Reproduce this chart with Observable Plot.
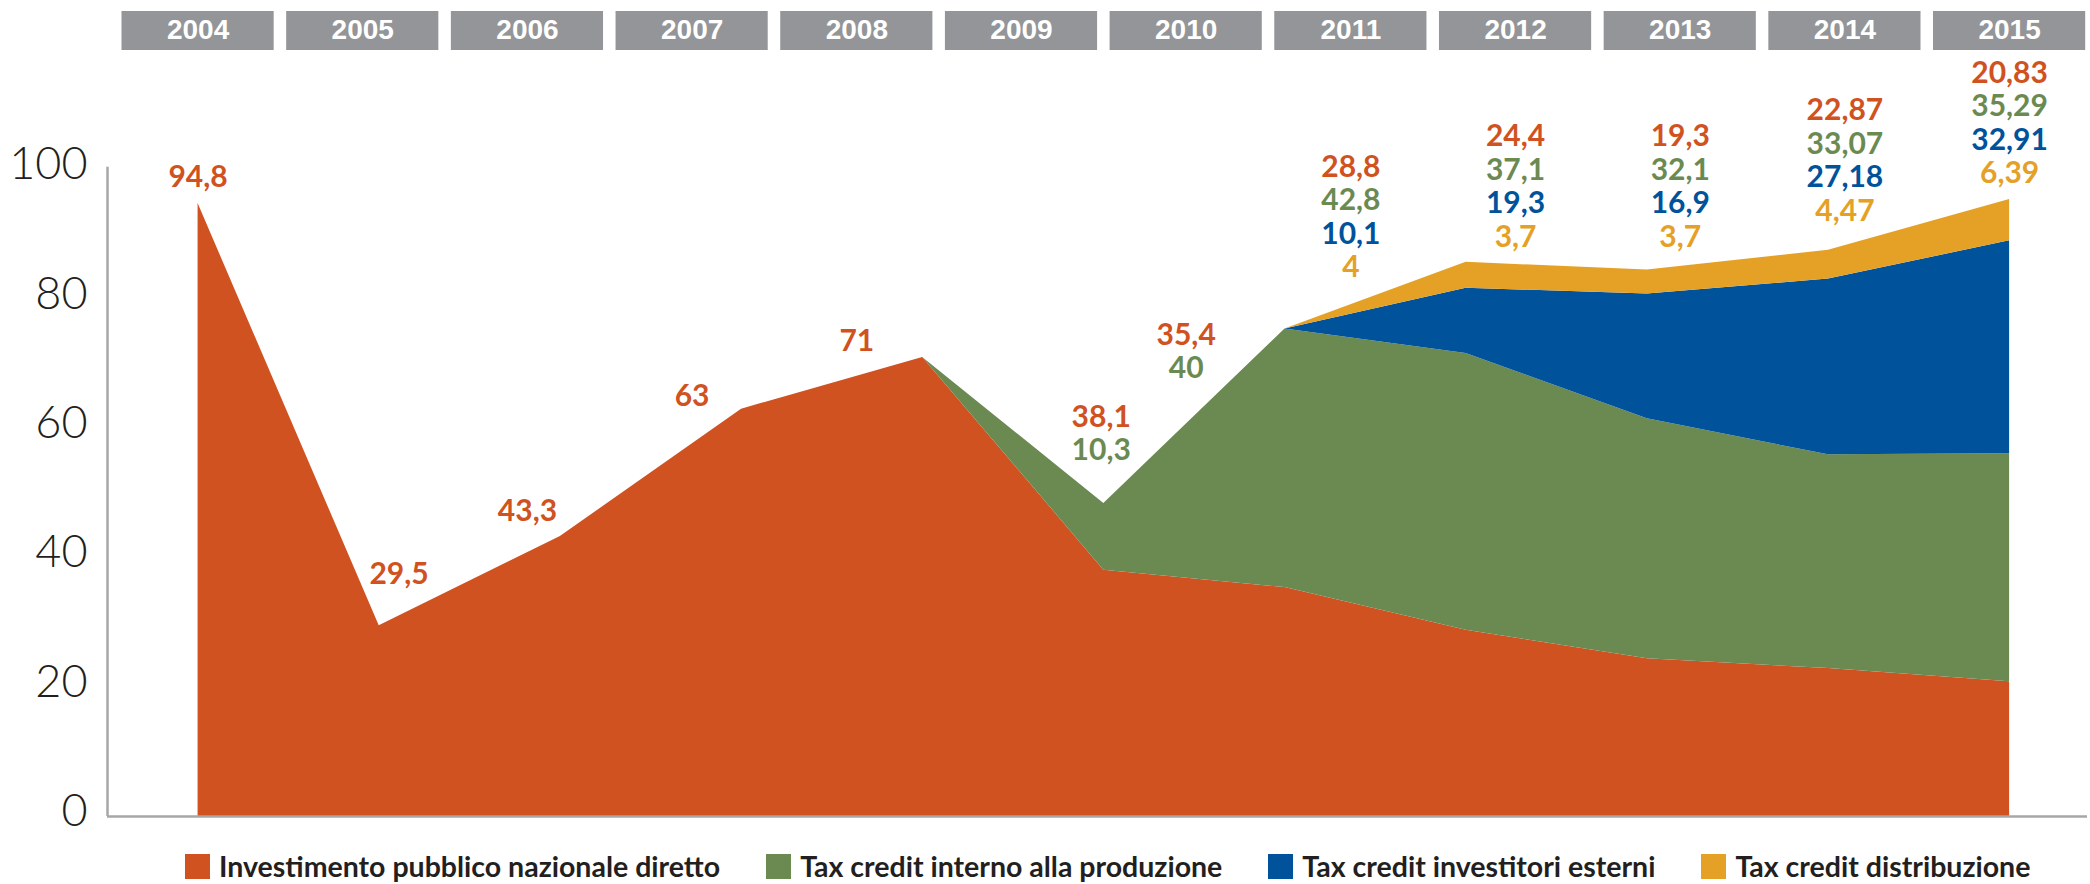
<!DOCTYPE html>
<html>
<head>
<meta charset="utf-8">
<script src="https://cdn.jsdelivr.net/npm/d3@7"></script>
<script src="https://cdn.jsdelivr.net/npm/@observablehq/plot@0.6"></script>
<style>
  html, body { margin: 0; padding: 0; background: #ffffff; }
  #legend { display: flex; align-items: center; height: 52px; padding-left: 185px; gap: 46px;
            font-family: Lato, "Open Sans", sans-serif; font-weight: 700; font-size: 28.5px; color: #231f20; }
  #legend .item { display: flex; align-items: center; white-space: nowrap; }
  #legend .sw { width: 25px; height: 25px; margin-right: 9px; display: inline-block; }
</style>
</head>
<body>
<div id="chart"></div>
<div id="legend"></div>
<script>
// ---- data ----
const years = [2004, 2005, 2006, 2007, 2008, 2009, 2010, 2011, 2012, 2013, 2014, 2015];
// years drawn as vertices of the area (the original chart has no 2013 vertex)
const areaYears = [2004, 2005, 2006, 2007, 2008, 2009, 2010, 2011, 2012, 2014, 2015];
const seriesNames = [
  "Investimento pubblico nazionale diretto",
  "Tax credit interno alla produzione",
  "Tax credit investitori esterni",
  "Tax credit distribuzione"
];
const pubblico      = [94.8, 29.5, 43.3, 63, 71, 38.1, 35.4, 28.8, 24.4, 19.3, 22.87, 20.83];
const interno       = [null, null, null, null, null, 10.3, 40, 42.8, 37.1, 32.1, 33.07, 35.29];
const esterni       = [null, null, null, null, null, null, null, 10.1, 19.3, 16.9, 27.18, 32.91];
const distribuzione = [null, null, null, null, null, null, null, 4, 3.7, 3.7, 4.47, 6.39];
const yTicks = [0, 20, 40, 60, 80, 100];

const colors = ["#D05220", "#6B8A52", "#00529B", "#E4A126"];
const seriesValues = [pubblico, interno, esterni, distribuzione];

// ---- build tables ----
const areaData = [];
areaYears.forEach((yr, i) => {
  const k = years.indexOf(yr);
  seriesNames.forEach((s, j) => {
    areaData.push({idx: i, year: yr, series: s, value: seriesValues[j][k] ?? 0});
  });
});
const totals = areaYears.map(yr => {
  const k = years.indexOf(yr);
  return d3.sum(seriesValues, arr => arr[k] ?? 0);
});
const lastIdx = totals.length - 1;
const ratio = lastIdx / (years.length - 1);
function topAt(x) {
  if (x < 0 || x > lastIdx) return 0;
  const i0 = Math.max(0, Math.min(lastIdx - 1, Math.floor(x)));
  const t = x - i0;
  return totals[i0] + (totals[i0 + 1] - totals[i0]) * t;
}
// highest point of the area under a label of half-width HW centred at x
const HW = 0.17;
function maxTop(x) {
  let m = 0;
  for (let s = -HW; s <= HW + 1e-9; s += HW / 20) m = Math.max(m, topAt(Math.min(lastIdx, Math.max(0, x + s))));
  return m;
}
const fmt = v => String(v).replace(".", ",");
const labels = [];
years.forEach((yr, k) => {
  const present = seriesNames.map((s, j) => ({s, v: seriesValues[j][k]})).filter(d => d.v != null);
  let x = k * ratio;
  const v = areaYears.indexOf(yr);
  if (v > x) {            // slide label toward its own vertex if that lets it sit lower
    let best = x, bm = maxTop(x);
    for (let c = x; c <= Math.min(lastIdx, v + 0.2); c += 0.01) {
      const m = maxTop(c);
      if (m < bm) { bm = m; best = c; }
    }
    if (maxTop(x) - bm > 2) x = best;
  }
  const top = maxTop(x);
  present.forEach((d, p) => {
    labels.push({x, top, series: d.s, text: fmt(d.v), rank: present.length - 1 - p});
  });
});
const headers = years.map((yr, k) => ({year: String(yr), x: k * ratio}));

const xDomain = [-0.5, 10.43];

const labelMarks = [0, 1, 2, 3].map(r =>
  Plot.text(labels.filter(d => d.rank === r), {
    x: "x", y: "top", text: "text", fill: "series",
    dy: -26 - 33.5 * r, fontSize: 30, fontWeight: 700, fontFamily: "Lato, sans-serif"
  })
);

const chart = Plot.plot({
  width: 2090,
  height: 840,
  marginTop: 11,
  marginBottom: 24,
  marginLeft: 107,
  marginRight: 3,
  x: {domain: xDomain, axis: null},
  y: {domain: [0, 100], range: [816, 169.4], label: null},
  color: {domain: seriesNames, range: colors},
  marks: [
    Plot.areaY(areaData, {x: "idx", y: "value", fill: "series", order: seriesNames, curve: "linear"}),
    Plot.ruleY([0], {stroke: "#a7a7a7", strokeWidth: 2.5}),
    Plot.ruleX([xDomain[0]], {y1: 0, y2: 100.4, stroke: "#a7a7a7", strokeWidth: 2.5}),
    Plot.axisY({ticks: yTicks, tickSize: 0, tickPadding: 20, fontSize: 45, fontWeight: 300, dy: -5,
                fontFamily: "Lato, sans-serif", color: "#231f20", label: null}),
    Plot.rect(headers, {x1: d => d.x - 0.42, x2: d => d.x + 0.42, fill: "#939598", insetBottom: 766}),
    Plot.text(headers, {x: "x", text: "year", frameAnchor: "top", lineAnchor: "middle", dy: 19, fill: "white",
                        fontSize: 28, fontWeight: 700, fontFamily: "Liberation Sans, Arial, sans-serif"}),
    ...labelMarks
  ]
});
document.getElementById("chart").appendChild(chart);

const legend = document.getElementById("legend");
seriesNames.forEach((s, j) => {
  const item = document.createElement("div");
  item.className = "item";
  const sw = document.createElement("span");
  sw.className = "sw";
  sw.style.background = colors[j];
  item.appendChild(sw);
  item.appendChild(document.createTextNode(s));
  legend.appendChild(item);
});
</script>
</body>
</html>
